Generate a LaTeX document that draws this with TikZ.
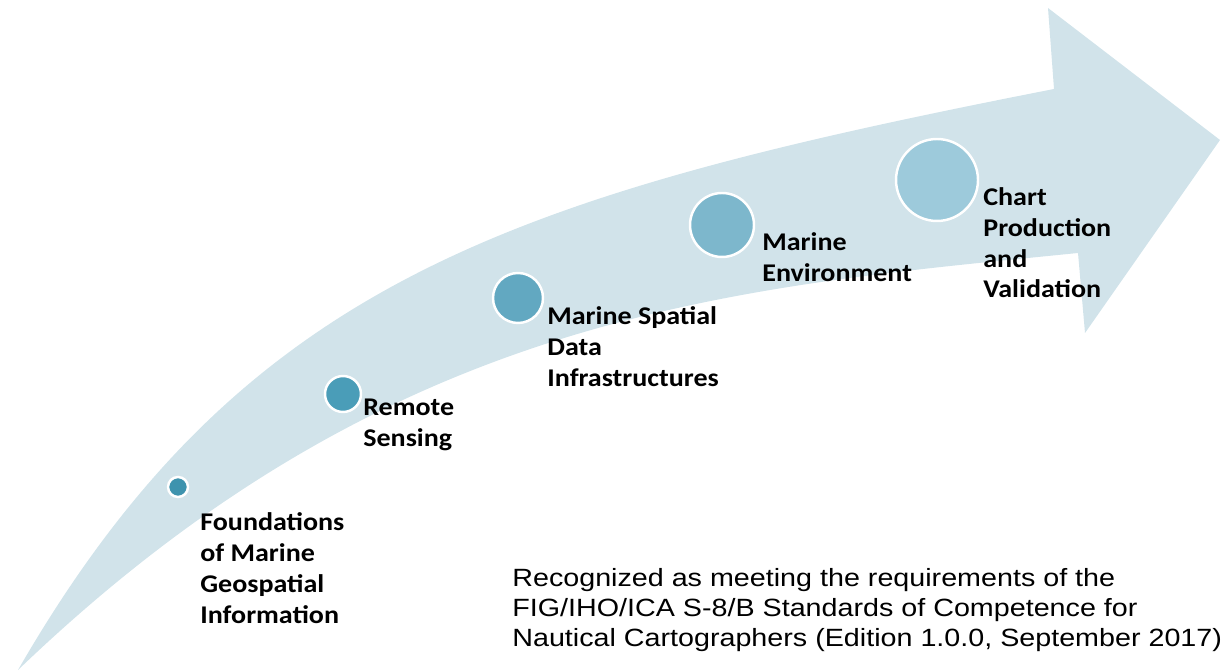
\documentclass[tikz,border=0pt]{standalone}
\usepackage{fontspec}
\setmainfont{Carlito}[FakeStretch=1.1]
\newfontfamily\arialfont{Liberation Sans}[FakeStretch=1.15]
\usepackage{xcolor}
\usetikzlibrary{positioning}

\definecolor{bandblue}{HTML}{D1E3EA}
\definecolor{stageA}{HTML}{3E93AE}
\definecolor{stageB}{HTML}{4A9DB8}
\definecolor{stageC}{HTML}{62A8C1}
\definecolor{stageD}{HTML}{7DB7CC}
\definecolor{stageE}{HTML}{9DCADB}

\begin{document}
\begin{tikzpicture}[x=0.02cm,y=-0.02cm]
  \tikzset{stage/.style = {shape=circle,draw=white,line width=1.4pt,inner sep=0pt}}
  \tikzset{stagelabel/.style = {anchor=north west,inner sep=0pt,align=left,
      font=\bfseries\fontsize{14.5}{17.6}\selectfont}}
  \tikzset{note/.style = {anchor=north west,inner sep=0pt,align=left,
      font=\arialfont\fontsize{14.2}{17.2}\selectfont}}

  \useasboundingbox (0,0) rectangle (1223,671);

  % the curved arrow
  \fill[bandblue] (18,670) .. controls (392,311) and (730,288) .. (1078,253)
    -- (1085,333) -- (1220,140) -- (1048,8) -- (1054,89)
    .. controls (513,195) and (243,280) .. (18,670) -- cycle;

  % stages along the arrow
  \node[stage,fill=stageA,minimum size=0.40cm] (F) at (178,487) {};
  \node[stage,fill=stageB,minimum size=0.72cm] (RS) at (343,394) {};
  \node[stage,fill=stageC,minimum size=1.00cm] (MSDI) at (518,298) {};
  \node[stage,fill=stageD,minimum size=1.28cm] (ME) at (722,225) {};
  \node[stage,fill=stageE,minimum size=1.64cm] (CPV) at (937,180) {};

  \node[stagelabel] (Flab) at (200,512) {Foundations\\of Marine\\Geospatial\\Information};
  \node[stagelabel] (RSlab) at (363,399) {Remote\\Sensing};
  \node[stagelabel] (MSDIlab) at (547,306) {Marine Spatial\\Data\\Infrastructures};
  \node[stagelabel] (MElab) at (762,232) {Marine\\Environment};
  \node[stagelabel] (CPVlab) at (983,187) {Chart\\Production\\and\\Validation};

  \node[note] (S8) at (512,568) {Recognized as meeting the requirements of the\\
    FIG/IHO/ICA S-8/B Standards of Competence for\\
    Nautical Cartographers (Edition 1.0.0, September 2017)};

\end{tikzpicture}
\end{document}
